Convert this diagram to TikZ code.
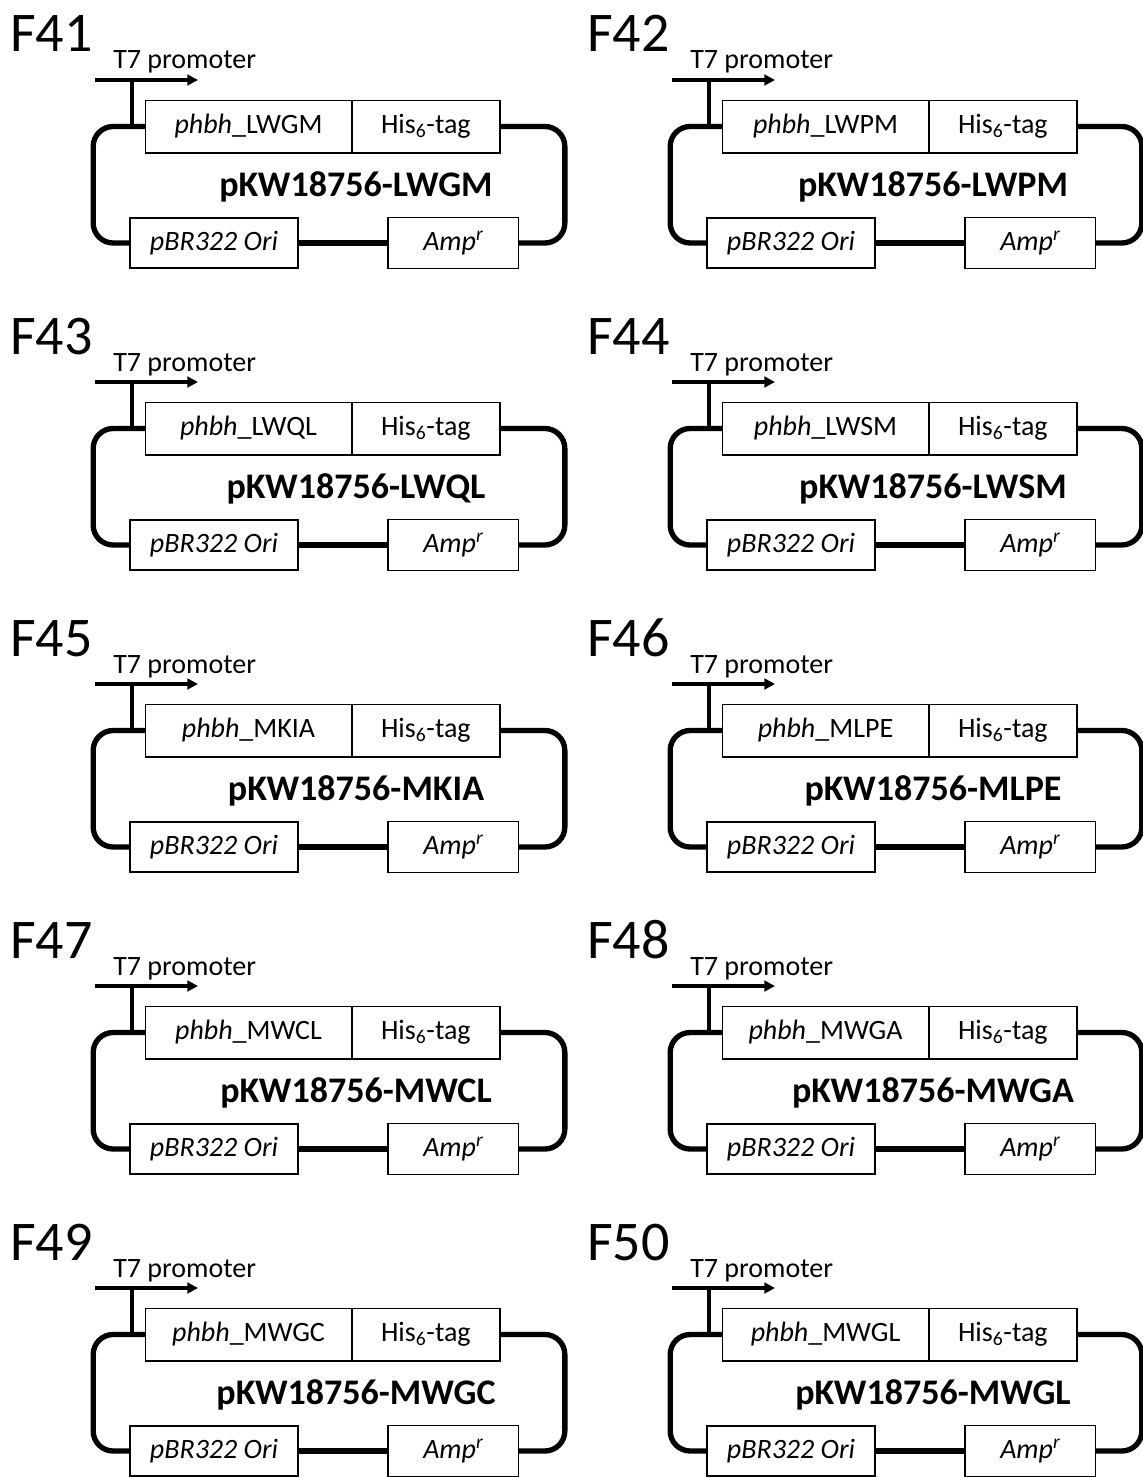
\documentclass[tikz,border=0pt]{standalone}
\usepackage{fontspec}
\setmainfont{Carlito}
\usetikzlibrary{arrows.meta,positioning}

\begin{document}
\begin{tikzpicture}[
  x=0.75pt, y=-0.75pt,
  font=\fontsize{21}{24}\selectfont,
  part/.style={draw, line width=1pt, outer sep=0pt, inner sep=0pt,
    minimum height=39.5pt},
  backbone/.style={line width=4pt, rounded corners=15pt},
  prom/.style={line width=2.8pt},
  figlabel/.style={font=\fontsize{42}{46}\selectfont, anchor=base west, inner sep=0pt},
  plasmid/.style={font=\bfseries\fontsize{27}{30}\selectfont}
]
\useasboundingbox (0,0) rectangle (1142,1477);
\foreach \fn/\var/\cx/\ry in {41/LWGM/0/0, 42/LWPM/1/0, 43/LWQL/0/1, 44/LWSM/1/1,
    45/MKIA/0/2, 46/MLPE/1/2, 47/MWCL/0/3, 48/MWGA/1/3, 49/MWGC/0/4, 50/MWGL/1/4}{
\begin{scope}[shift={(\cx*577,\ry*302)}]
% construct label
\node[figlabel] (fig\fn) at (10,52) {F\fn};
% gene cassette
\node[part, minimum width=155pt] (gene\fn) at (248.5,126.5) {\textit{phbh}\_\var};
\node[part, minimum width=111pt, right=0pt of gene\fn] (tag\fn) {His\textsubscript{6}-tag};
\node[plasmid] (name\fn) at (356,187) {pKW18756-\var};
% backbone parts
\node[part, minimum width=126pt, minimum height=37.5pt] (ori\fn) at (214,243) {\textit{pBR322 Ori}};
\node[part, minimum width=98pt, minimum height=38.5pt, right=67.5pt of ori\fn] (amp\fn) {\textit{Amp\textsuperscript{r}}};
% promoter
\node[anchor=base west, inner sep=0pt] (prom\fn) at (113,69) {T7 promoter};
\coordinate (tss\fn) at (132,126.5);
\coordinate (ps\fn) at (95,80);
\coordinate (pe\fn) at (198,80);
\draw[prom] (tss\fn) -- (tss\fn |- ps\fn);
\draw[prom, -{Triangle[length=8pt,width=8pt]}] (ps\fn) -- (pe\fn);
% ring
\draw[backbone] (gene\fn.west) -- ++(-52,0) |- (ori\fn.west);
\draw[backbone] (tag\fn.east) -- ++(65,0) |- (amp\fn.east);
\draw[backbone] (ori\fn.east) -- (amp\fn.west);
\end{scope}
}
\end{tikzpicture}
\end{document}
